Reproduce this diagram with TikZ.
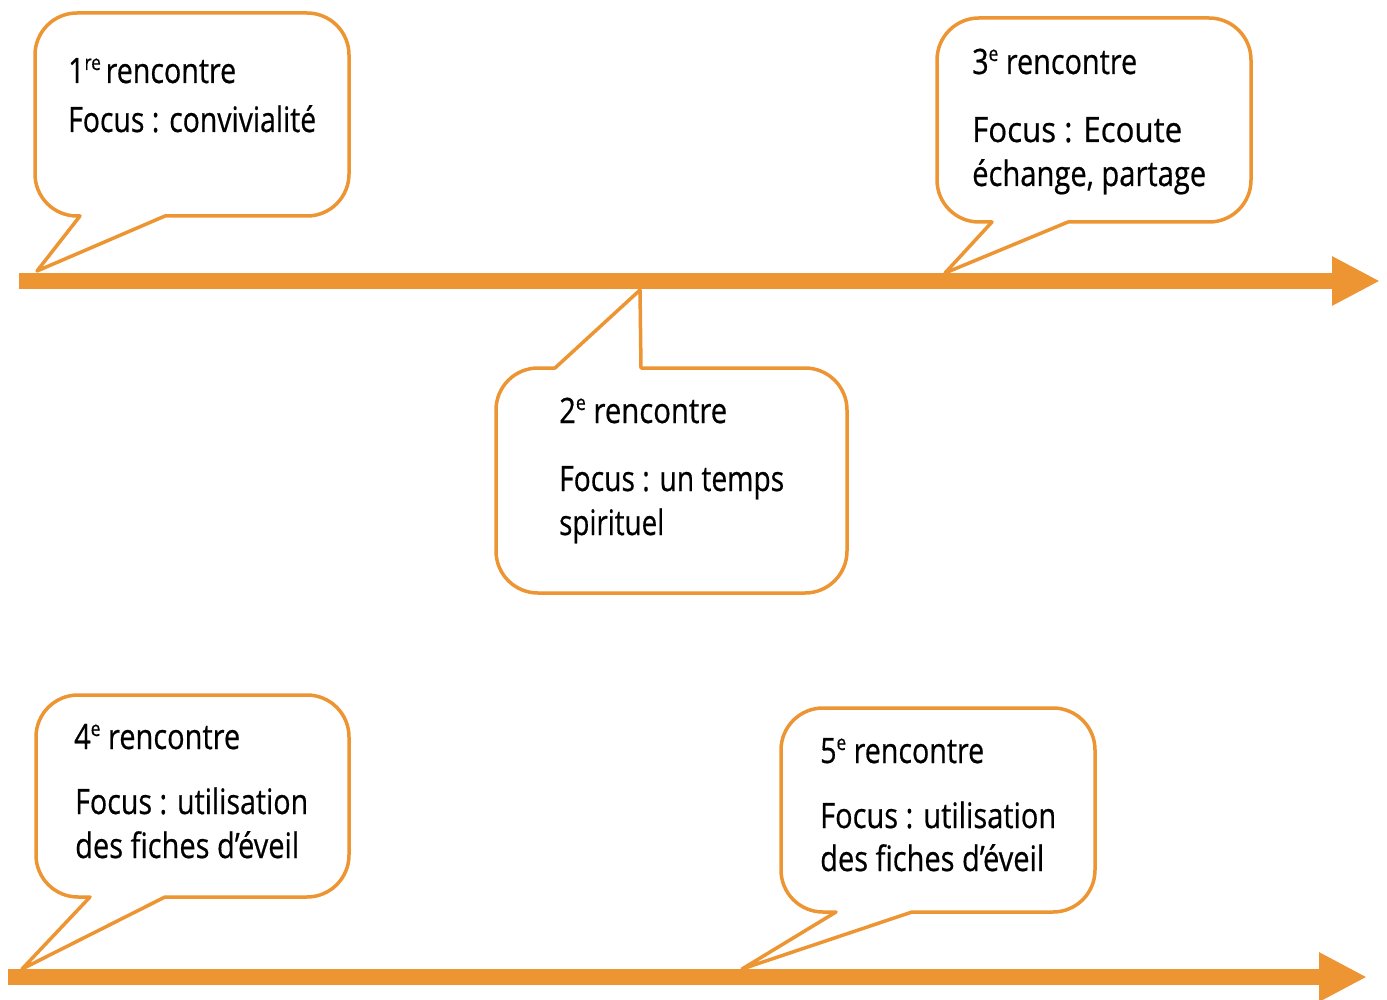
\documentclass[tikz,border=0pt]{standalone}
\usepackage{fontspec}
\setmainfont{Open Sans}
\newfontfamily\tfont[FakeBold=0.6]{Open Sans}
\usetikzlibrary{arrows.meta}
\definecolor{org}{HTML}{ED9533}
\def\rr{42}
\tikzset{
  bubble/.style={draw=org,line width=3.5pt,fill=white,line join=round},
  tline/.style={draw=org,line width=16pt,-{Triangle[length=48pt,width=46pt]}},
  txt/.style={anchor=base west,inner sep=0pt,font=\tfont\fontsize{35}{42}\selectfont}
}
\newcommand\fitw[2]{\resizebox{#1pt}{\height}{#2}}
\newcommand\supx[1]{\raisebox{13pt}{\fontsize{21}{21}\selectfont #1}}
% L R T B a tipx tipy b
\newcommand\bubbledown[8]{%
\draw[bubble] (#8,#4) -- ({#2-\rr},#4) arc[start angle=270,end angle=360,radius=\rr]
 -- (#2,{#3-\rr}) arc[start angle=0,end angle=90,radius=\rr]
 -- ({#1+\rr},#3) arc[start angle=90,end angle=180,radius=\rr]
 -- (#1,{#4+\rr}) arc[start angle=180,end angle=270,radius=\rr]
 -- (#5,#4) -- (#6,#7) -- cycle;}
\begin{document}
\begin{tikzpicture}[x=1pt,y=1pt]
\useasboundingbox (0,0) rectangle (1387,-1000);
% timelines
\coordinate (s1) at (19,-281);
\coordinate (e1) at (1380,-281);
\coordinate (s2) at (8,-977);
\coordinate (e2) at (1367,-977);
\draw[tline] (s1) -- (e1);
\draw[tline] (s2) -- (e2);
% bubbles
\bubbledown{35}{349}{-13}{-216}{80}{37}{-271}{165}
\bubbledown{937}{1251}{-18}{-222}{992}{945}{-273}{1068}
\bubbledown{36}{349}{-695}{-897}{90}{22}{-969}{165}
\bubbledown{781}{1095}{-708}{-912}{836}{742}{-969}{912}
\draw[bubble] (641,-368) -- ({847-\rr},-368) arc[start angle=90,end angle=0,radius=\rr]
 -- (847,{-593+\rr}) arc[start angle=0,end angle=-90,radius=\rr]
 -- ({496+\rr},-593) arc[start angle=270,end angle=180,radius=\rr]
 -- (496,{-368-\rr}) arc[start angle=180,end angle=90,radius=\rr]
 -- (555,-368) -- (640,-290) -- cycle;
% texts
\node[txt] (b1a) at (68,-83) {\fitw{168}{1\supx{re}\,rencontre}};
\node[txt] (b1b) at (68,-132) {\fitw{248}{Focus : convivialité}};
\node[txt] (b3a) at (972,-74) {\fitw{165}{3\supx{e} rencontre}};
\node[txt] (b3b) at (972,-142) {\fitw{210}{Focus : Ecoute}};
\node[txt] (b3c) at (972,-186) {\fitw{234}{échange, partage}};
\node[txt] (b2a) at (559,-423) {\fitw{168}{2\supx{e} rencontre}};
\node[txt] (b2b) at (559,-491) {\fitw{225}{Focus : un temps}};
\node[txt] (b2c) at (559,-535) {\fitw{105}{spirituel}};
\node[txt] (b4a) at (74,-749) {\fitw{166}{4\supx{e} rencontre}};
\node[txt] (b4b) at (75,-814) {\fitw{233}{Focus : utilisation}};
\node[txt] (b4c) at (75,-858) {\fitw{224}{des fiches d’éveil}};
\node[txt] (b5a) at (820,-763) {\fitw{164}{5\supx{e} rencontre}};
\node[txt] (b5b) at (820,-828) {\fitw{236}{Focus : utilisation}};
\node[txt] (b5c) at (820,-871) {\fitw{224}{des fiches d’éveil}};
\end{tikzpicture}
\end{document}
